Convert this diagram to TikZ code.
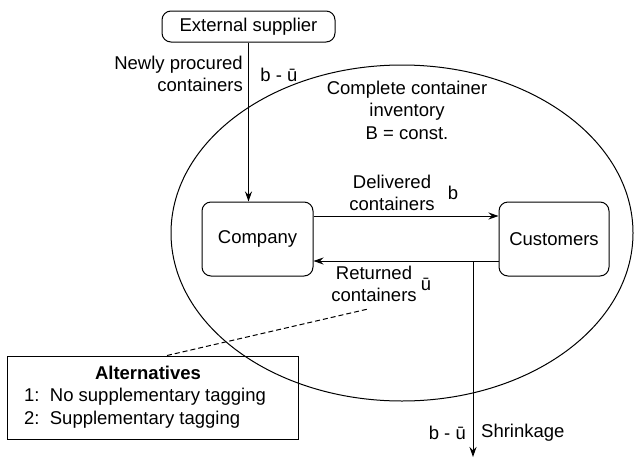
\documentclass[tikz,border=0pt]{standalone}
\usepackage{fontspec}
\setmainfont{Liberation Sans}
\usetikzlibrary{arrows.meta}
\begin{document}
\begin{tikzpicture}[x=1pt,y=-1pt,
  every node/.style={font=\fontsize{18.5}{22.5}\selectfont, inner sep=0pt},
  rbox/.style={draw, rounded corners=9pt, line width=1pt},
  flow/.style={line width=1pt, -{Stealth[length=10pt,width=7pt]}},
  lbl/.style={align=center}]
\useasboundingbox (0,0) rectangle (634,461);
\node[rbox, minimum width=173pt, minimum height=31pt] (ext) at (248.5,26.5) {External supplier};
\draw[line width=1pt] (402,233) ellipse [x radius=231, y radius=168];
\node[rbox, minimum width=111pt, minimum height=74pt] (comp) at (257.5,239) {Company};
\node[rbox, minimum width=110pt, minimum height=74pt] (cust) at (554,239) {Customers};
\draw[flow] (ext.south) -- (comp.north -| ext.south);
\coordinate (d1) at (comp.east |- 0,216);
\coordinate (d2) at (cust.west |- 0,216);
\draw[flow] (d1) -- (d2);
\coordinate (r1) at (cust.west |- 0,261);
\coordinate (r2) at (comp.east |- 0,261);
\draw[flow] (r1) -- (r2);
\coordinate (s1) at (473,261);
\coordinate (s2) at (473,457);
\draw[flow] (s1) -- (s2);
\node[lbl, anchor=east, align=right] (newly) at (243,74) {Newly procured\\containers};
\node (bu1) at (279,75) {b - ū};
\node[lbl] (inv) at (407,110) {Complete container\\inventory\\B = const.};
\node[lbl] (del) at (392,193) {Delivered\\containers};
\node (b) at (453,193) {b};
\node[lbl] (ret) at (374,284) {Returned\\containers};
\node (u) at (426,284) {ū};
\node[anchor=east] (bu2) at (466,433) {b - ū};
\node[anchor=west] (shr) at (481,433) {Shrinkage};
\node[draw, line width=1pt, minimum width=291pt, minimum height=83pt] (alt) at (152.5,397.5) {};
\node[font=\fontsize{18.5}{22}\selectfont\bfseries] (altt) at (148,373) {Alternatives};
\node[anchor=west] (a1) at (24,397) {1:\ \ No supplementary tagging};
\node[anchor=west] (a2) at (24,420) {2:\ \ Supplementary tagging};
\coordinate (dd) at (368,309);
\draw[dashed, dash pattern=on 5pt off 3pt, line width=1pt] (alt.north -| 167,0) -- (dd);
\end{tikzpicture}
\end{document}
